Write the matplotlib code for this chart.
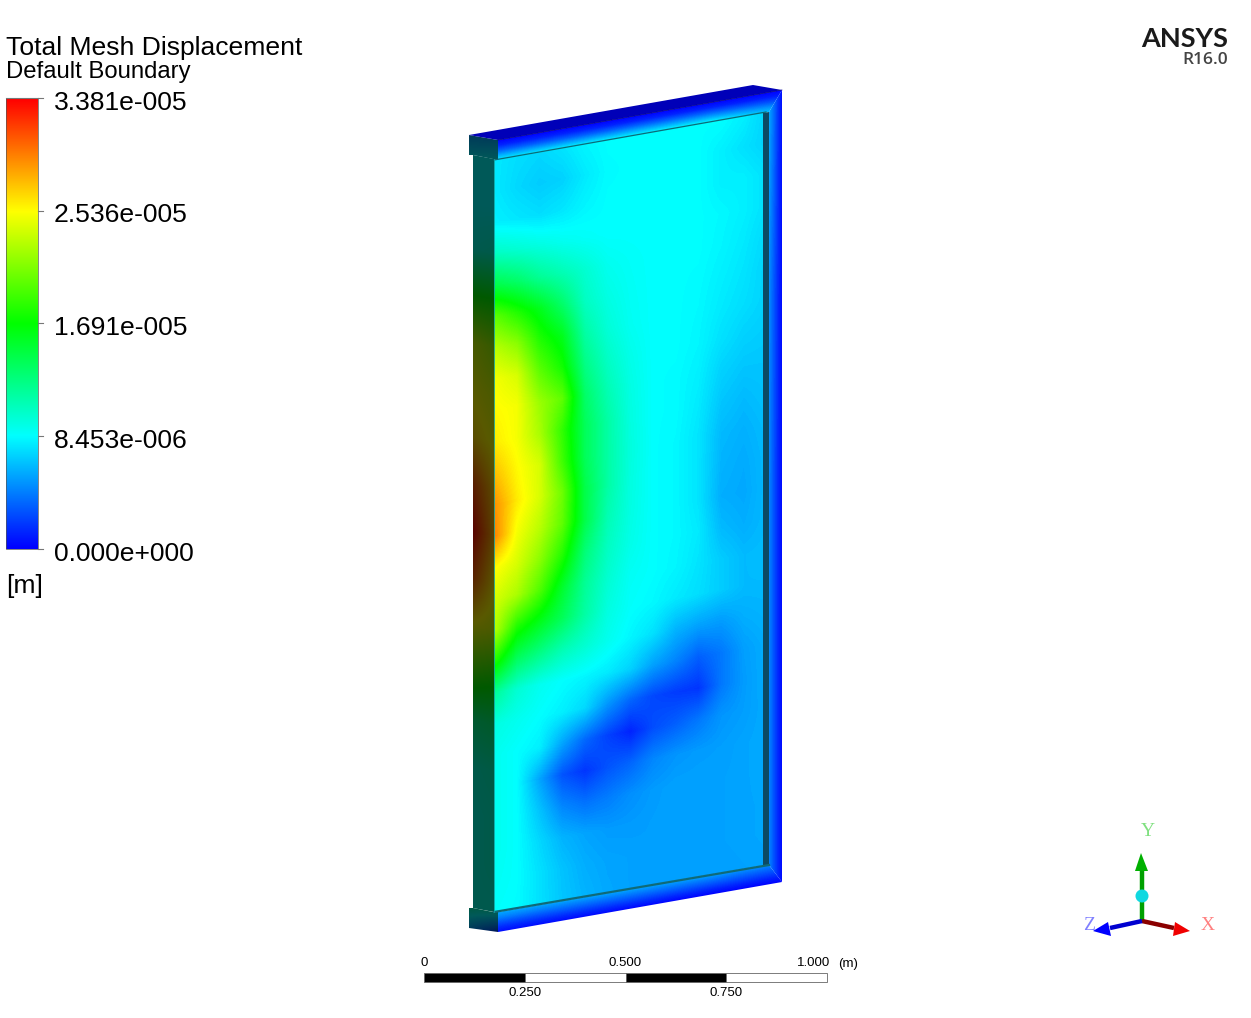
# Total mesh displacement contour, ANSYS R16.0 style
import numpy as np
import matplotlib
matplotlib.use("Agg")
import matplotlib.pyplot as plt
from matplotlib.colors import LinearSegmentedColormap
from matplotlib.patches import Polygon, Circle, Rectangle
from matplotlib.transforms import Affine2D

# legend values, in 1e-6 m
legend_vals = [33.81, 25.36, 16.91, 8.453, 0.0]
legend_labels = ["3.381e-005", "2.536e-005", "1.691e-005", "8.453e-006", "0.000e+000"]
scale_ticks = [0.0, 0.25, 0.5, 0.75, 1.0]
scale_labels = ["0", "0.250", "0.500", "0.750", "1.000"]

# displacement on the inner face, 1e-6 m, rows top to bottom, columns left to right
face = np.array([
    [7.8, 7.4, 7.2, 7.6, 8.2, 8.5, 8.5, 8.5, 8.5, 8.5, 8.5, 8.0, 7.0],
    [7.8, 7.2, 6.8, 7.0, 7.8, 8.4, 8.5, 8.5, 8.5, 8.5, 8.0, 7.5, 7.0],
    [8.0, 7.7, 7.4, 7.7, 8.2, 8.5, 8.5, 8.5, 8.5, 8.5, 8.0, 8.0, 7.5],
    [10.5, 10.0, 9.5, 9.0, 8.7, 8.5, 8.5, 8.5, 8.5, 8.5, 8.3, 8.0, 7.5],
    [14.5, 13.5, 12.0, 11.0, 10.0, 9.0, 8.7, 8.5, 8.5, 8.5, 8.2, 7.8, 7.2],
    [20.0, 18.0, 16.0, 13.5, 10.5, 9.4, 8.8, 8.5, 8.5, 8.4, 8.0, 7.6, 7.0],
    [23.0, 21.5, 18.0, 16.0, 11.5, 9.8, 8.9, 8.5, 8.5, 8.3, 7.8, 7.4, 7.0],
    [25.0, 24.0, 20.0, 17.5, 12.5, 10.4, 9.2, 8.5, 8.5, 8.2, 7.5, 7.0, 6.8],
    [25.5, 25.0, 22.0, 20.0, 13.5, 11.0, 9.4, 8.5, 8.4, 8.0, 7.0, 6.6, 6.6],
    [26.0, 25.0, 22.5, 18.5, 14.0, 11.5, 9.5, 8.5, 8.4, 7.8, 6.6, 6.2, 6.5],
    [27.5, 25.5, 24.0, 19.0, 14.0, 11.5, 9.6, 8.5, 8.3, 7.6, 6.2, 5.9, 6.3],
    [29.0, 26.0, 24.0, 20.5, 14.5, 11.5, 9.5, 8.5, 8.3, 7.6, 6.0, 5.7, 6.2],
    [29.5, 25.0, 23.0, 20.0, 14.5, 11.0, 9.4, 8.5, 8.3, 7.6, 5.8, 5.6, 6.2],
    [25.5, 24.0, 21.5, 18.0, 13.0, 10.5, 9.2, 8.5, 8.3, 7.8, 6.2, 5.8, 6.2],
    [24.0, 22.5, 19.5, 15.5, 12.0, 10.0, 8.8, 8.5, 8.2, 7.6, 6.8, 6.2, 6.3],
    [23.0, 18.0, 16.0, 14.0, 11.5, 9.5, 8.6, 8.3, 7.8, 7.4, 6.8, 6.2, 6.2],
    [18.0, 14.0, 12.5, 11.0, 10.0, 9.0, 8.2, 7.5, 6.0, 5.4, 5.2, 5.8, 6.0],
    [12.0, 10.0, 9.0, 8.5, 8.2, 7.8, 7.0, 5.4, 4.4, 3.2, 4.0, 5.3, 5.8],
    [9.5, 9.0, 8.5, 8.0, 7.2, 5.0, 3.4, 2.4, 2.0, 1.8, 4.0, 5.2, 5.8],
    [9.0, 8.5, 8.0, 5.5, 3.5, 2.2, 1.2, 2.6, 3.2, 4.0, 5.0, 5.3, 5.7],
    [9.0, 8.5, 5.5, 2.8, 1.8, 2.8, 3.4, 4.5, 5.0, 5.2, 5.3, 5.5, 5.7],
    [9.0, 8.5, 6.5, 4.5, 3.8, 4.2, 4.8, 5.2, 5.4, 5.4, 5.4, 5.5, 5.7],
    [9.0, 8.5, 7.2, 6.0, 5.5, 5.2, 5.2, 5.3, 5.4, 5.4, 5.4, 5.5, 5.6],
    [8.8, 8.5, 7.5, 6.5, 5.8, 5.5, 5.4, 5.3, 5.3, 5.3, 5.4, 5.5, 5.6],
    [8.6, 8.4, 7.5, 6.6, 6.0, 5.6, 5.4, 5.3, 5.3, 5.3, 5.3, 5.4, 5.5],
])

# rims of the frame, rows outer edge to inner edge, columns along the rim
rim_top = np.array([
    [0.1, 0.1, 0.1, 0.1, 0.1],
    [1.2, 1.2, 1.2, 1.2, 0.9],
    [3.2, 3.2, 3.4, 3.4, 2.6],
    [5.8, 5.8, 6.0, 6.0, 4.6],
    [8.0, 8.4, 8.6, 8.8, 6.0],
])
rim_bottom = np.array([
    [5.6, 5.6, 5.6, 5.5, 4.6],
    [4.4, 4.2, 4.2, 4.0, 3.4],
    [2.8, 2.8, 2.8, 2.6, 2.2],
    [1.4, 1.4, 1.4, 1.2, 1.0],
    [0.4, 0.3, 0.2, 0.1, 0.1],
])
# right rim, rows top to bottom, columns inner edge to outer edge
rim_right = np.array([
    [5.6, 3.8, 1.8, 0.2],
    [4.6, 3.0, 1.4, 0.1],
    [4.4, 2.8, 1.3, 0.1],
    [4.4, 2.8, 1.3, 0.1],
    [4.4, 2.8, 1.3, 0.1],
])
# left stem seen from the side, rows top to bottom, columns left to right
stem = np.array([
    [8.5, 8.5],
    [8.5, 8.5],
    [9.5, 10.0],
    [17.0, 17.0],
    [23.5, 22.0],
    [25.0, 24.0],
    [26.5, 25.0],
    [31.0, 27.0],
    [33.5, 28.0],
    [30.5, 26.0],
    [25.0, 24.0],
    [19.0, 18.0],
    [12.5, 13.0],
    [10.0, 10.5],
    [9.5, 10.0],
    [9.5, 10.0],
    [9.5, 9.5],
])
# end blocks of the stem, rows top to bottom
block_top = np.array([[5.5, 6.0], [8.0, 8.5]])
block_bottom = np.array([[10.5, 9.5], [6.0, 2.0]])

blue_to_red = ["#0000ff", "#00ffff", "#00ff00", "#ffff00", "#ff0000"]
contour = LinearSegmentedColormap.from_list("contour", blue_to_red)
shaded = LinearSegmentedColormap.from_list(
    "shaded", [tuple(0.35 * c for c in matplotlib.colors.to_rgb(h)) for h in blue_to_red])

plt.rcParams["font.family"] = "Liberation Sans"
fig = plt.figure(figsize=(12.51, 10.18), dpi=100)
ax = fig.add_axes([0, 0, 1, 1])


def sheared(values, corner, u_end, v_end, outline, cmap=contour, zorder=2):
    # image of the nodal values on a parallelogram, cut by outline
    ny, nx = values.shape
    corner, u_end, v_end = map(np.array, (corner, u_end, v_end))
    du = (u_end - corner) / (nx - 1)
    dv = (v_end - corner) / (ny - 1)
    mat = np.array([[du[0], dv[0], corner[0]], [du[1], dv[1], corner[1]], [0, 0, 1]])
    im = ax.imshow(values, cmap=cmap, vmin=0, vmax=legend_vals[0], aspect="auto",
                   interpolation="bilinear", interpolation_stage="data", zorder=zorder)
    im.set_transform(Affine2D(mat) + ax.transData)
    im.set_clip_path(Polygon(outline, transform=ax.transData))
    return im


# faces of the frame
sheared(face, (494, 160), (766, 112), (494, 912), [(493, 160), (766, 112), (766, 865), (493, 912)])
sheared(rim_top, (498, 140), (782, 90), (498, 160), [(498, 140), (782, 90), (769, 112), (498, 160)])
sheared(rim_right, (769, 90), (782, 90), (769, 882), [(782, 90), (782, 882), (769, 865), (769, 112)])
sheared(rim_bottom, (498, 912), (782, 862), (498, 932), [(498, 912), (769, 865), (782, 882), (498, 932)])
sheared(stem, (473, 155), (493, 159), (473, 908), [(473, 155), (494, 159), (494, 912), (473, 908)],
        cmap=shaded, zorder=3)
sheared(block_top, (469, 135), (498, 140), (469, 155),
        [(469, 135), (498, 140), (498, 160), (493, 159), (473, 155), (469, 155)], cmap=shaded, zorder=3)
sheared(block_bottom, (469, 908), (498, 913), (469, 928),
        [(469, 908), (473, 908), (493, 912), (498, 912), (498, 932), (469, 928)], cmap=shaded, zorder=3)

ax.add_patch(Polygon([(469, 135), (753, 85), (782, 90), (498, 140)], fc="#0000b8", ec="none", zorder=3))
ax.add_patch(Polygon([(763, 113), (769, 112), (769, 865), (763, 866)], fc="#0b4a66", ec="none", zorder=3))
ax.plot([498, 782], [140, 90], color="#00008a", lw=0.5, zorder=4)
ax.plot([494, 766], [160, 112], color="#0b6b78", lw=0.9, zorder=4)
ax.plot([494, 769], [912, 865], color="#0f6a78", lw=1.6, zorder=4)
ax.plot([494, 494], [160, 912], color="#10a0a0", lw=0.6, zorder=4)

# legend
ax.text(6, 48, "Total Mesh Displacement", fontsize=19.05, va="center", color="black")
ax.text(6, 72, "Default Boundary", fontsize=17.2, va="center", color="black")
bar_y = np.interp(legend_vals, [legend_vals[4], legend_vals[0]], [549, 98])
ax.imshow(np.linspace(legend_vals[0], 0, 256).reshape(-1, 1), cmap=contour, vmin=0, vmax=legend_vals[0],
          extent=(6, 38, 549, 98), aspect="auto", zorder=2)
ax.add_patch(Rectangle((6, 98), 32, 451, fc="none", ec="#555555", lw=0.5, zorder=3))
for y, lab in zip(bar_y, legend_labels):
    ax.plot([38, 43], [y, y], color="#777777", lw=0.8, zorder=3)
    ax.text(54, y + 4.6, lab, fontsize=19.05, va="center", color="black")
ax.plot([6, 38], [98, 98], color="#777777", lw=0.8, zorder=3)
ax.text(6, 586, "[m]", fontsize=19.05, va="center", color="black")

# scale bar
scale_x = np.interp(scale_ticks, [0, 1], [424, 827])
for i in range(4):
    ax.add_patch(Rectangle((scale_x[i], 973), scale_x[i + 1] - scale_x[i], 9,
                           fc="black" if i % 2 == 0 else "white", ec="#666666", lw=0.6, zorder=3))
for i, (x, lab) in enumerate(zip(scale_x, scale_labels)):
    if i == 4:
        ax.text(x + 3, 963.5, lab, fontsize=9.5, ha="right", va="center", color="black")
    elif i % 2 == 0:
        ax.text(x, 963.5, lab, fontsize=9.5, ha="center", va="center", color="black")
    else:
        ax.text(x, 993.5, lab, fontsize=9.5, ha="center", va="center", color="black")
ax.text(848, 963.5, "(m)", fontsize=9.5, ha="center", va="center", color="black")

# logo
ax.text(1228, 39, "ANSYS", fontsize=19.5, family="Lato", weight="bold",
        ha="right", va="center", color="#1a1a1a")
ax.text(1228, 60, "R16.0", fontsize=12.5, family="Open Sans", weight="semibold",
        ha="right", va="center", color="#444444")

# axis triad
ax.plot([1142, 1142], [921, 870], color="#00a000", lw=3.2, solid_capstyle="butt", zorder=3)
ax.plot([1142, 1174], [921, 928], color="#8a0000", lw=3.2, solid_capstyle="butt", zorder=3)
ax.plot([1142, 1110], [921, 928], color="#0000d0", lw=3.2, solid_capstyle="butt", zorder=3)
ax.add_patch(Polygon([(1141, 853), (1148, 871), (1135, 871)], fc="#00b000", ec="none", zorder=4))
ax.add_patch(Polygon([(1190, 931), (1175, 922), (1173, 936)], fc="#f00000", ec="none", zorder=4))
ax.add_patch(Polygon([(1093, 931), (1108, 922), (1111, 936)], fc="#0000ff", ec="none", zorder=4))
ax.add_patch(Circle((1142, 896), 6.5, fc="#10d8e0", ec="none", zorder=5))
ax.text(1148, 831, "Y", fontsize=14, family="Liberation Serif", ha="center", va="center", color="#80e080")
ax.text(1208, 926, "X", fontsize=14, family="Liberation Serif", ha="center", va="center", color="#ff8080")
ax.text(1089, 926, "Z", fontsize=14, family="Liberation Serif", ha="center", va="center", color="#8080ff")

ax.set_xlim(0, 1251)
ax.set_ylim(1018, 0)
ax.axis("off")
fig.savefig("out.png", dpi=100, facecolor="white")
